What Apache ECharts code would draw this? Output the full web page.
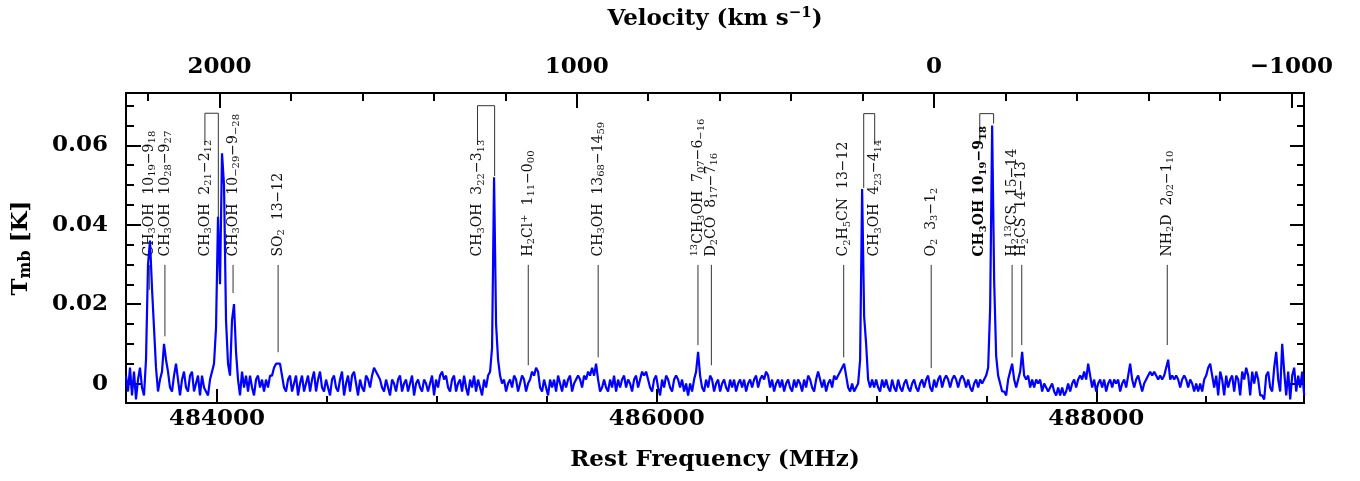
<!DOCTYPE html>
<html>
<head>
<meta charset="utf-8">
<script src="https://cdn.jsdelivr.net/npm/echarts@6/dist/echarts.min.js"></script>
<style>
  html, body { margin: 0; padding: 0; background: #fff; }
  #main { width: 1360px; height: 481px; }
</style>
</head>
<body>
<div id="main"></div>
<script>
// spectrum: first channel, channel width (MHz), Tmb in mK
var freqStart = 483586;
var freqStep = 9.1;
var tmbMilliK = [
  2,-2,4,-3,3,-4,1,4,-1,-3,6,30,36,24,14,4,-2,1,3,10,
  6,3,-1,-2,2,5,1,-3,1,3,-1,-2,2,3,-2,0,2,-3,2,-1,
  -2,-3,1,3,5,14,42,25,58,50,16,5,2,16,20,8,1,-3,3,-1,
  2,-2,2,-1,-3,1,2,-1,1,-2,1,-1,2,2,4,5,5,5,2,-1,
  -2,1,2,-2,0,2,-3,0,2,-2,0,2,-2,1,3,-2,1,3,-1,-2,
  1,-1,-3,1,2,-1,-2,1,3,-3,0,2,-2,2,3,0,-3,1,-1,-2,
  2,1,-1,2,4,3,2,1,-1,-2,1,-1,-3,1,0,-2,1,2,-2,0,
  1,-2,0,2,-3,0,1,-1,-2,1,0,-2,0,2,-3,1,-1,2,3,1,
  2,-1,-2,1,2,-2,0,1,-2,2,-1,-3,1,-1,2,-2,1,-1,-3,1,
  -1,2,3,9,52,15,6,2,0,1,-2,0,1,-1,2,1,-2,0,2,1,
  -2,0,1,3,2,4,3,-1,-2,1,-1,-3,1,-1,1,-2,2,0,-2,1,
  -1,1,2,-2,0,1,2,1,-1,2,1,3,2,4,2,5,1,-2,-1,1,
  -1,-2,1,-1,2,-2,1,-1,1,2,-1,1,0,-2,1,2,-1,1,3,2,
  3,1,-1,-2,1,2,-1,-3,1,-1,2,1,-1,-2,1,2,1,-1,1,-2,
  0,-3,0,-2,1,3,8,2,-1,-2,1,-1,2,1,-2,0,1,-2,0,1,
  -1,-2,1,-1,1,-2,0,1,-1,1,-2,0,1,-1,1,2,-1,1,2,1,
  3,2,-1,1,-2,0,1,-1,1,-2,0,1,-1,-2,1,-1,1,0,-2,1,
  -1,2,1,-1,-2,1,3,1,-1,1,-2,0,1,-1,2,1,2,3,4,5,
  2,-1,-2,0,-2,-1,0,6,49,17,10,1,-1,1,-1,1,-1,-2,1,-1,
  1,-1,-2,1,-1,-2,1,-1,-2,0,1,-1,-2,0,1,-1,-2,0,1,-1,
  1,2,-1,-2,1,-1,1,2,-1,1,2,1,-1,1,2,1,-1,1,2,1,
  -1,1,-1,-2,0,1,-1,1,0,1,2,4,19,65,26,7,2,0,-2,-2,
  -3,1,3,5,1,-1,1,3,8,2,1,2,-1,1,-1,1,0,1,-2,0,
  -1,-2,-1,0,-2,-3,-1,-3,-1,-3,-2,0,-2,0,1,-1,1,2,1,3,
  1,5,2,-1,1,-2,0,1,-1,1,-2,0,1,-1,1,0,1,-2,0,1,
  -1,2,5,1,-1,1,2,0,-2,0,1,2,3,2,3,2,1,2,1,2,
  4,6,1,2,1,2,1,-1,1,2,1,-1,1,0,-2,0,-2,0,-2,1,
  2,4,5,2,-1,2,-3,3,1,-3,2,-1,1,2,-2,2,1,-3,3,1,
  4,2,-3,3,0,3,1,-3,-3,-4,2,3,-1,-2,4,8,1,-2,10,3,
  -3,3,-4,2,4,-2,2,-1,3,-3
];

// axes
var freqMin = 483586;
var freqMax = 488945;
var freqTicks = [484000, 486000, 488000];
var freqMinorStep = 500;
var velTicks = [2000, 1000, 0, -1000];
var velMinorStep = 200;
var restFreq = 487262;     // MHz where v = 0
var lightSpeed = 299792.458;
var tmbMin = -0.0049;
var tmbMax = 0.0732;
var tmbTicks = [0, 0.02, 0.04, 0.06];
var tmbMinorStep = 0.005;

// line identifications
var markLabel = [
  '{m|CH}{s|3}{m|OH  10}{s|19}{m|\u22129}{s|18}',
  '{m|CH}{s|3}{m|OH  10}{s|28}{m|\u22129}{s|27}',
  '{m|CH}{s|3}{m|OH  2}{s|21}{m|\u22122}{s|12}',
  '{m|CH}{s|3}{m|OH  10}{s|\u221229}{m|\u22129}{s|\u221228}',
  '{m|SO}{s|2}{m|  13\u221212}',
  '{m|CH}{s|3}{m|OH  3}{s|22}{m|\u22123}{s|13}',
  '{m|H}{s|2}{m|Cl}{p|+}{m|  1}{s|11}{m|\u22120}{s|00}',
  '{m|CH}{s|3}{m|OH  13}{s|68}{m|\u221214}{s|59}',
  '{p|13}{m|CH}{s|3}{m|OH  7}{s|07}{m|\u22126}{s|\u221216}',
  '{m|D}{s|2}{m|CO  8}{s|17}{m|\u22127}{s|16}',
  '{m|C}{s|2}{m|H}{s|5}{m|CN  13\u221212}',
  '{m|CH}{s|3}{m|OH  4}{s|23}{m|\u22124}{s|14}',
  '{m|O}{s|2}{m|  3}{s|3}{m|\u22121}{s|2}',
  '{mb|CH}{sb|3}{mb|OH 10}{sb|19}{mb|\u22129}{sb|18}',
  '{m|H}{s|2}{p|13}{m|CS  15\u221214}',
  '{m|H}{s|2}{m|CS  14\u221213}',
  '{m|NH}{s|2}{m|D  2}{s|02}{m|\u22121}{s|10}'
];
var markFreq = [483692, 483763, 483945, 484073, 484278, 485185, 485416, 485734, 486188,
                486249, 486851, 486992, 487249, 487470, 487617, 487661, 488323];
var markEnd = [0.0236, 0.0119, 0.0417, 0.0228, 0.0079, 0.0523, 0.0046, 0.0066, 0.0097,
               0.0046, 0.0066, 0.0493, 0.0039, 0.0655, 0.0066, 0.0097, 0.0097];
var markPeak = [null, null, 484006, null, null, 485263, null, null, null,
                null, null, 486942, null, 487533, null, null, null];
var markTop = [null, null, 0.0681, null, null, 0.0700, null, null, null,
               null, null, 0.0680, null, 0.0680, null, null, null];

var lineTop = 0.0299;
var labelStart = 0.0320;
var bracketFoot = 0.0602;

var serif = 'DejaVu Serif';

var spectrum = tmbMilliK.map(function (t, i) {
  return [freqStart + i * freqStep, t / 1000];
});

function velToFreq(v) {
  return restFreq * (1 - v / lightSpeed);
}
function freqToVel(f) {
  return Math.round(lightSpeed * (1 - f / restFreq));
}
function minusSign(v) {
  return v < 0 ? '\u2212' + (-v) : String(v);
}

var freqMinor = [];
for (var f = Math.ceil(freqMin / freqMinorStep) * freqMinorStep; f <= freqMax; f += freqMinorStep) {
  freqMinor.push(f);
}
var velMajorFreq = velTicks.map(velToFreq);
var velMinorFreq = [];
for (var v = 2200; v >= -1000; v -= velMinorStep) {
  var fv = velToFreq(v);
  if (fv >= freqMin && fv <= freqMax) velMinorFreq.push(fv);
}
var tmbMinor = [];
for (var k = 0; k * tmbMinorStep <= tmbMax; k++) {
  tmbMinor.push(Math.round(k * tmbMinorStep * 1000) / 1000);
}

var axisLineStyle = { color: '#000', width: 2 };
var tickFont = { fontFamily: serif, fontSize: 23, fontWeight: 'bold', color: '#000' };

function freqAxis(pos, ticks, len, labels, extra) {
  var ax = {
    type: 'value', position: pos, min: freqMin, max: freqMax, gridIndex: 0,
    axisLine: { show: labels, onZero: false, lineStyle: axisLineStyle },
    axisTick: { show: true, inside: true, length: len, customValues: ticks, lineStyle: axisLineStyle },
    axisLabel: { show: false },
    splitLine: { show: false }
  };
  if (labels) {
    ax.axisLabel = Object.assign({ show: true, customValues: ticks }, tickFont, extra);
  }
  return ax;
}
function tmbAxis(pos, ticks, len, labels) {
  var ax = {
    type: 'value', position: pos, min: tmbMin, max: tmbMax, gridIndex: 0,
    axisLine: { show: true, onZero: false, lineStyle: axisLineStyle },
    axisTick: { show: true, inside: true, length: len, customValues: ticks, lineStyle: axisLineStyle },
    axisLabel: { show: false },
    splitLine: { show: false }
  };
  if (labels) {
    ax.axisLabel = Object.assign({
      show: true, customValues: ticks, margin: 18,
      formatter: function (val) { return val === 0 ? '0' : val.toFixed(2); }
    }, tickFont);
  }
  return ax;
}

var xTop = freqAxis('top', velMajorFreq, 15, true, {
  margin: 14,
  formatter: function (val) { return minusSign(freqToVel(val)); }
});
xTop.name = '{n|Velocity (km s}{e|\u22121}{n|)}';
xTop.nameLocation = 'middle';
xTop.nameGap = 60;
xTop.nameTextStyle = {
  rich: {
    n: { fontFamily: serif, fontSize: 23, fontWeight: 'bold', color: '#000' },
    e: { fontFamily: serif, fontSize: 15, fontWeight: 'bold', color: '#000', padding: [0, 0, 12, 0] }
  }
};

var xBottom = freqAxis('bottom', freqTicks, 14, true, {
  margin: 5,
  formatter: function (val) { return String(val); }
});
xBottom.name = 'Rest Frequency (MHz)';
xBottom.nameLocation = 'middle';
xBottom.nameGap = 46;
xBottom.nameTextStyle = { fontFamily: serif, fontSize: 23, fontWeight: 'bold', color: '#000' };

var yLeft = tmbAxis('left', tmbTicks, 15, true);
yLeft.name = '{n|T}{s|mb}{n| [K]}';
yLeft.nameLocation = 'middle';
yLeft.nameGap = 92;
yLeft.nameTextStyle = {
  rich: {
    n: { fontFamily: serif, fontSize: 23, fontWeight: 'bold', color: '#000' },
    s: { fontFamily: serif, fontSize: 16, fontWeight: 'bold', color: '#000', padding: [10, 0, 0, 0] }
  }
};

var labelRich = {
  m: { fontFamily: serif, fontSize: 14, fill: '#111' },
  s: { fontFamily: serif, fontSize: 10, fill: '#111', padding: [7, 0, 0, 0] },
  p: { fontFamily: serif, fontSize: 10, fill: '#111', padding: [0, 0, 8, 0] },
  mb: { fontFamily: serif, fontSize: 14, fontWeight: 'bold', fill: '#000' },
  sb: { fontFamily: serif, fontSize: 10, fontWeight: 'bold', fill: '#000', padding: [7, 0, 0, 0] }
};

var chart = echarts.init(document.getElementById('main'), null, { renderer: 'canvas' });
chart.setOption({
  animation: false,
  backgroundColor: '#fff',
  textStyle: { fontFamily: serif },
  grid: { left: 126, right: 56, top: 93, bottom: 78, containLabel: false },
  xAxis: [
    xBottom,
    freqAxis('bottom', freqMinor, 7, false),
    xTop,
    freqAxis('top', velMinorFreq, 8, false)
  ],
  yAxis: [
    yLeft,
    tmbAxis('left', tmbMinor, 8, false),
    tmbAxis('right', tmbTicks, 14, false),
    tmbAxis('right', tmbMinor, 7, false)
  ],
  series: [
    {
      type: 'custom',
      coordinateSystem: 'cartesian2d',
      xAxisIndex: 0,
      yAxisIndex: 0,
      silent: true,
      z: 2,
      data: markFreq.map(function (f, i) { return [f, markEnd[i]]; }),
      renderItem: function (params, api) {
        var i = params.dataIndex;
        var children = [];
        if (markPeak[i] === null) {
          var a = api.coord([markFreq[i], lineTop]);
          var b = api.coord([markFreq[i], markEnd[i]]);
          children.push({
            type: 'line',
            shape: { x1: a[0], y1: a[1], x2: b[0], y2: b[1] },
            style: { stroke: '#333', lineWidth: 1 }
          });
        } else {
          children.push({
            type: 'polyline',
            shape: {
              points: [
                api.coord([markFreq[i], bracketFoot]),
                api.coord([markFreq[i], markTop[i]]),
                api.coord([markPeak[i], markTop[i]]),
                api.coord([markPeak[i], markEnd[i]])
              ]
            },
            style: { stroke: '#333', lineWidth: 1, fill: null }
          });
        }
        var t = api.coord([markFreq[i], labelStart]);
        children.push({
          type: 'text',
          x: t[0],
          y: t[1],
          rotation: Math.PI / 2,
          style: {
            text: markLabel[i],
            rich: labelRich,
            fontFamily: serif,
            fontSize: 14,
            fill: '#111',
            align: 'left',
            verticalAlign: 'middle'
          }
        });
        return { type: 'group', children: children };
      }
    },
    {
      type: 'line',
      xAxisIndex: 0,
      yAxisIndex: 0,
      z: 3,
      data: spectrum,
      showSymbol: false,
      symbol: 'none',
      sampling: null,
      lineStyle: { color: '#0000ff', width: 2.2 }
    }
  ]
});
</script>
</body>
</html>
